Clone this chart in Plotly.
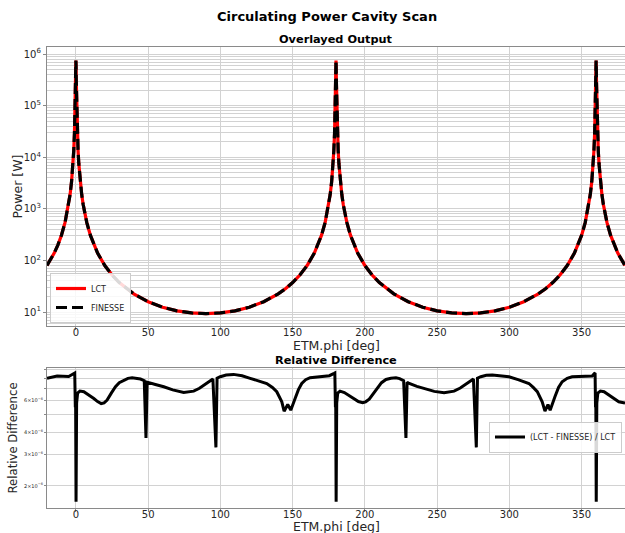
import plotly.graph_objects as go

# ---------------- data ----------------
phi_deg = [-20, -15, -12.5, -10, -7.5, -5, -4, -3, -2, -1.5, -1, -0.75, -0.5, -0.25, -0.1,
           0, 0.1, 0.25, 0.5, 0.75, 1, 1.5, 2, 3, 4, 5, 7.5, 10, 12.5, 15, 20, 25, 30, 35, 40, 50, 60, 70, 80, 90,
           100, 110, 120, 130, 140, 145, 150, 155, 160, 165, 167.5, 170, 172.5, 175, 176, 177, 178, 178.5, 179,
           179.25, 179.5, 179.75, 179.9,
           180, 180.1, 180.25, 180.5, 180.75, 181, 181.5, 182, 183, 184, 185, 187.5, 190, 192.5, 195, 200, 205,
           210, 215, 220, 230, 240, 250, 260, 270,
           280, 290, 300, 310, 320, 325, 330, 335, 340, 345, 347.5, 350, 352.5, 355, 356, 357, 358, 358.5, 359,
           359.25, 359.5, 359.75, 359.9,
           360, 360.1, 360.25, 360.5, 360.75, 361, 361.5, 362, 363, 364, 365, 367.5, 370, 372.5, 375, 380]

power_w = [79.5, 138.8, 198.5, 308.3, 545.7, 1222, 1907, 3380, 7560, 13330, 29300, 50600, 105000, 296000, 602000,
           750000, 602000, 296000, 105000, 50600, 29300, 13330, 7560, 3380, 1907, 1222, 545.7, 308.3, 198.5, 138.8,
           79.5, 52.07, 37.2, 28.27, 22.51, 15.85, 12.40, 10.53, 9.59, 9.30,
           9.59, 10.53, 12.40, 15.85, 22.51, 28.27, 37.2, 52.07, 79.5, 138.8, 198.5, 308.3, 545.7, 1222, 1907, 3380,
           7560, 13330, 29300, 50600, 105000, 296000, 602000,
           750000, 602000, 296000, 105000, 50600, 29300, 13330, 7560, 3380, 1907, 1222, 545.7, 308.3, 198.5, 138.8,
           79.5, 52.07, 37.2, 28.27, 22.51, 15.85, 12.40, 10.53, 9.59, 9.30,
           9.59, 10.53, 12.40, 15.85, 22.51, 28.27, 37.2, 52.07, 79.5, 138.8, 198.5, 308.3, 545.7, 1222, 1907, 3380,
           7560, 13330, 29300, 50600, 105000, 296000, 602000,
           750000, 602000, 296000, 105000, 50600, 29300, 13330, 7560, 3380, 1907, 1222, 545.7, 308.3, 198.5, 138.8,
           79.5]

rel_phi = [-20, -13, -5, -2, -0.8, -0.4, -0.2, 0.1, 0.5, 1.2, 2.8, 5.5, 9, 12.4, 15, 17.5, 19.5, 21.6, 24.5,
           27.4, 30, 33.1, 36, 38.9, 42, 44.7, 47.3, 48.5, 49.3, 50.4, 55, 60.8, 67, 74.6, 81.5, 85.5, 89.6, 92.5,
           94.8, 96.9, 97.7, 99.9, 104, 109.1, 115, 120.6, 126, 132.1, 136, 139.0, 142.5, 144.1, 146.6, 148.7,
           151.7, 154, 156.3, 159, 162.1, 167, 171.3, 175.4, 178.7, 179.2, 179.6, 179.8, 180.1, 180.5, 181.2,
           182.8, 185.8, 189, 192.7, 195.5, 198.4, 200.5, 203.0, 206, 208.8, 211.5, 214.6, 218, 221.5, 224, 226.8,
           228.4, 229.2, 230.7, 236, 242.2, 248, 254.8, 261.7, 266, 269.8, 272.5, 275.1, 277.1, 277.9, 280.2, 284,
           288.2, 294, 299.7, 306, 313.5, 316.5, 319.3, 322.7, 324.6, 326.7, 328.2, 331.5, 334, 336.5, 340, 343.4,
           350, 357.3, 358.9, 359.3, 359.6, 359.8, 360.1, 360.5, 361.2, 363.0, 365.5, 368.8, 372.5, 375.7, 380]

rel_diff = [7.98e-6, 8.22e-6, 8.18e-6, 8.40e-6, 8.55e-6, 5.5e-6, 6.0e-6, 1.63e-6, 5.8e-6, 6.6e-6, 6.77e-6,
            6.72e-6, 6.45e-6, 6.16e-6, 5.92e-6, 5.77e-6, 5.82e-6, 6.03e-6, 6.6e-6,
            7.16e-6, 7.55e-6, 7.81e-6, 7.98e-6, 8.05e-6, 8.0e-6, 7.91e-6, 7.75e-6, 3.70e-6, 7.6e-6, 7.57e-6,
            7.38e-6, 7.16e-6, 6.88e-6, 6.65e-6, 6.77e-6, 7.02e-6, 7.38e-6, 7.7e-6,
            7.91e-6, 3.28e-6, 8.0e-6, 8.15e-6, 8.33e-6, 8.40e-6, 8.25e-6, 7.98e-6, 7.75e-6, 7.47e-6, 7.1e-6,
            6.72e-6, 5.90e-6, 5.23e-6, 5.70e-6, 5.30e-6,
            6.16e-6, 6.9e-6, 7.47e-6, 7.85e-6, 8.05e-6, 8.12e-6, 8.15e-6, 8.26e-6, 8.51e-6, 8.55e-6, 5.5e-6,
            6.0e-6, 1.63e-6, 5.8e-6, 6.6e-6,
            6.77e-6, 6.65e-6, 6.4e-6, 6.11e-6, 5.92e-6, 5.83e-6, 5.9e-6, 6.11e-6, 6.6e-6, 7.16e-6, 7.55e-6,
            7.87e-6, 8.0e-6, 8.05e-6, 7.95e-6, 7.75e-6,
            3.70e-6, 7.6e-6, 7.47e-6, 7.2e-6, 6.96e-6, 6.75e-6, 6.63e-6, 6.77e-6, 7.05e-6, 7.38e-6, 7.7e-6,
            7.91e-6, 3.28e-6, 8.0e-6, 8.15e-6, 8.3e-6,
            8.33e-6, 8.25e-6, 8.15e-6, 7.85e-6, 7.47e-6, 7.1e-6, 6.72e-6, 5.90e-6, 5.23e-6, 5.70e-6, 5.30e-6,
            6.29e-6, 7.1e-6, 7.64e-6, 7.98e-6, 8.15e-6,
            8.2e-6, 8.22e-6, 8.51e-6, 8.55e-6, 5.5e-6, 6.0e-6, 1.63e-6, 5.8e-6, 6.6e-6, 6.77e-6, 6.72e-6,
            6.43e-6, 6.16e-6, 5.90e-6, 5.80e-6]

x_ticks = [0, 50, 100, 150, 200, 250, 300, 350]
power_ticks = [1e1, 1e2, 1e3, 1e4, 1e5, 1e6]
power_tick_text = ["10<sup>1</sup>", "10<sup>2</sup>", "10<sup>3</sup>", "10<sup>4</sup>", "10<sup>5</sup>",
                   "10<sup>6</sup>"]
rel_ticks = [2e-6, 3e-6, 4e-6, 5e-6, 6e-6, 7e-6, 8e-6, 9e-6]
rel_tick_text = ["2×10<sup>−6</sup>", "3×10<sup>−6</sup>", "4×10<sup>−6</sup>", " ", "6×10<sup>−6</sup>",
                 " ", " ", " "]

# ---------------- figure ----------------
FONT = "DejaVu Sans"
TXT = "#262626"
GRID = "#d2d2d2"
SPINE = "#8a8a8a"
H_PLOT = 461.0  # plot-area height in px (533 - 47 - 25)


def py(px):
    """pixel row -> paper y"""
    return (508.0 - px) / H_PLOT


fig = go.Figure()
fig.add_trace(go.Scatter(x=phi_deg, y=power_w, mode="lines", name="LCT",
                         line=dict(color="#ff0000", width=3.2), xaxis="x", yaxis="y", legend="legend"))
fig.add_trace(go.Scatter(x=phi_deg, y=power_w, mode="lines", name="FINESSE",
                         line=dict(color="#000000", width=3.2, dash="11px,5px"), xaxis="x", yaxis="y",
                         legend="legend"))
fig.add_trace(go.Scatter(x=rel_phi, y=rel_diff, mode="lines", name="(LCT - FINESSE) / LCT",
                         line=dict(color="#000000", width=3), xaxis="x2", yaxis="y2", legend="legend2"))

minor_power = [m * 10 ** k for k in range(0, 7) for m in range(2, 10)]

xcommon = dict(range=[-20, 380], tickvals=x_ticks, showgrid=True, gridcolor=GRID, gridwidth=1,
               showline=True, linecolor=SPINE, linewidth=1.2, mirror=True, ticks="outside", ticklen=3,
               tickcolor=SPINE, tickfont=dict(family=FONT, size=10, color=TXT), zeroline=False,
               ticklabelstandoff=-6)

fig.update_layout(
    width=625, height=533,
    margin=dict(l=47, r=0, t=47, b=25, autoexpand=False),
    paper_bgcolor="white", plot_bgcolor="white",
    font=dict(family=FONT, color=TXT),
    xaxis=dict(domain=[0, 1], anchor="y", **xcommon),
    xaxis2=dict(domain=[0, 1], anchor="y2", **xcommon),
    yaxis=dict(domain=[py(326), 1], anchor="x", type="log", range=[0.729, 6.136],
               tickvals=power_ticks, ticktext=power_tick_text, showgrid=True, gridcolor=GRID, gridwidth=1,
               minor=dict(tickvals=minor_power, showgrid=True, gridcolor=GRID, gridwidth=0.8, ticks=""),
               showline=True, linecolor=SPINE, linewidth=1.2, mirror=True, ticks="outside", ticklen=3,
               tickcolor=SPINE, tickfont=dict(family=FONT, size=10, color=TXT), zeroline=False),
    yaxis2=dict(domain=[0, py(368)], anchor="x2", type="log", range=[-5.823, -5.040],
                tickvals=rel_ticks, ticktext=rel_tick_text, showgrid=True, gridcolor=GRID, gridwidth=1,
                showline=True, linecolor=SPINE, linewidth=1.2, mirror=True, ticks="outside", ticklen=2,
                tickcolor=SPINE, tickfont=dict(family=FONT, size=5, color=TXT), zeroline=False),
    legend=dict(x=0.0052, y=py(323), xanchor="left", yanchor="bottom", bgcolor="rgba(255,255,255,0.85)",
                bordercolor="#cccccc", borderwidth=1, font=dict(family=FONT, size=8, color=TXT),
                tracegroupgap=0, itemwidth=30),
    legend2=dict(x=0.9948, y=py(437), xanchor="right", yanchor="middle", bgcolor="rgba(255,255,255,0.85)",
                 bordercolor="#cccccc", borderwidth=1, font=dict(family=FONT, size=8, color=TXT),
                 itemwidth=30),
    showlegend=True,
)

ann = [
    dict(text="<b>Circulating Power Cavity Scan</b>", x=0.4844, y=py(16.5), size=13),
    dict(text="<b>Overlayed Output</b>", x=0.5, y=py(39.5), size=11.3),
    dict(text="<b>Relative Difference</b>", x=0.5, y=py(360.5), size=11.3),
    dict(text="ETM.phi [deg]", x=0.5, y=py(345), size=12.5),
    dict(text="ETM.phi [deg]", x=0.5, y=py(526), size=12.5),
]
for a in ann:
    fig.add_annotation(text=a["text"], x=a["x"], y=a["y"], xref="paper", yref="paper", showarrow=False,
                       xanchor="center", yanchor="middle",
                       font=dict(family=FONT, size=a["size"], color="#000000" if "<b>" in a["text"] else TXT))
fig.add_annotation(text="Power [W]", x=-0.0502, y=py(186.5), xref="paper", yref="paper",
                   showarrow=False, textangle=-90, xanchor="center", yanchor="middle",
                   font=dict(family=FONT, size=12.5, color=TXT))
fig.add_annotation(text="Relative Difference", x=-0.058, y=py(438), xref="paper", yref="paper",
                   showarrow=False, textangle=-90, xanchor="center", yanchor="middle",
                   font=dict(family=FONT, size=11.7, color=TXT))

fig.write_html("out.html", config={"displayModeBar": False},
               post_script="document.body.style.margin='0px';document.body.style.overflow='hidden';")
